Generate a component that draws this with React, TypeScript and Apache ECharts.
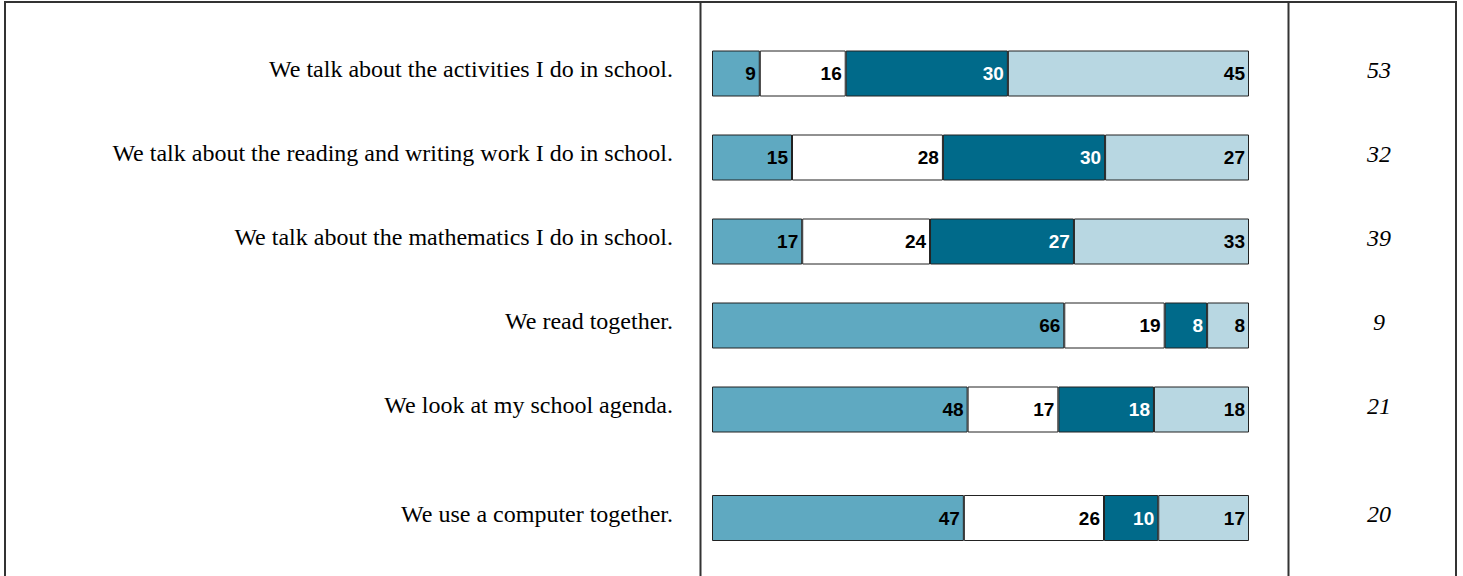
import React, { useEffect, useRef } from "react";
import * as echarts from "echarts";

const categories = [
  "We talk about the activities I do in school.",
  "We talk about the reading and writing work I do in school.",
  "We talk about the mathematics I do in school.",
  "We read together.",
  "We look at my school agenda.",
  "We use a computer together.",
];
const sideValues = ["53", "32", "39", "9", "21", "20"];
const seriesNames = ["Response 1", "Response 2", "Response 3", "Response 4"];
const share1 = [8.9, 14.9, 16.8, 65.6, 47.6, 46.9];
const share2 = [16.0, 28.1, 23.8, 18.7, 16.9, 26.1];
const share3 = [30.2, 30.2, 26.8, 7.9, 17.8, 10.1];
const share4 = [44.9, 26.8, 32.6, 7.8, 17.7, 16.9];
const colors = ["#5FA9C1", "#FFFFFF", "#006A8A", "#B8D7E2"];
const labelColors = ["#000000", "#000000", "#FFFFFF", "#000000"];

export default function App() {
  const ref = useRef<HTMLDivElement>(null);
  useEffect(() => {
    if (!ref.current) return;
    const chart = echarts.init(ref.current, undefined, { renderer: "svg" });
    const shares = [share1, share2, share3, share4];
    const groups = [
      { from: 0, to: 5 },
      { from: 5, to: 6 },
    ];
    const serif = "'Liberation Serif', 'Times New Roman', serif";
    const sans = "'Liberation Sans', Arial, sans-serif";
    const xAxis: any[] = [];
    const yAxis: any[] = [];
    const series: any[] = [];
    groups.forEach((g, gi) => {
      xAxis.push({ type: "value", min: 0, max: 100, show: false, gridIndex: gi });
      const cats = categories.slice(g.from, g.to);
      yAxis.push({
        type: "category",
        gridIndex: gi,
        inverse: true,
        data: cats,
        axisLine: { show: false },
        axisTick: { show: false },
        splitLine: { show: false },
        axisLabel: {
          margin: 39,
          fontFamily: serif,
          fontSize: 24,
          color: "#000",
          verticalAlign: "bottom",
          lineHeight: 9,
        },
      });
      yAxis.push({
        type: "category",
        gridIndex: gi,
        position: "right",
        inverse: true,
        data: sideValues.slice(g.from, g.to),
        axisLine: { show: false },
        axisTick: { show: false },
        splitLine: { show: false },
        axisLabel: {
          margin: 130,
          align: "center",
          fontFamily: serif,
          fontStyle: "italic",
          fontSize: 24,
          color: "#000",
          verticalAlign: "bottom",
          lineHeight: 8,
        },
      });
      shares.forEach((arr, si) => {
        series.push({
          type: "bar",
          name: seriesNames[si],
          stack: "total" + gi,
          xAxisIndex: gi,
          yAxisIndex: gi * 2,
          barWidth: 46,
          data: arr.slice(g.from, g.to),
          itemStyle: { color: colors[si], borderColor: "#222", borderWidth: 1 },
          label: {
            show: true,
            position: "insideRight",
            distance: 4,
            formatter: (p: any) => String(Math.round(p.value)),
            fontFamily: sans,
            fontWeight: "bold",
            fontSize: 19,
            color: labelColors[si],
          },
        });
      });
    });
    chart.setOption({
      animation: false,
      backgroundColor: "#ffffff",
      grid: [
        { left: 712, width: 537, top: 31.5, height: 420 },
        { left: 712, width: 537, top: 476, height: 84 },
      ],
      xAxis,
      yAxis,
      series,
      graphic: [
        {
          type: "rect",
          shape: { x: 5, y: 2, width: 1451, height: 620 },
          style: { fill: "none", stroke: "#333", lineWidth: 2 },
        },
        {
          type: "line",
          shape: { x1: 700.5, y1: 2, x2: 700.5, y2: 576 },
          style: { stroke: "#333", lineWidth: 2 },
        },
        {
          type: "line",
          shape: { x1: 1288.5, y1: 2, x2: 1288.5, y2: 576 },
          style: { stroke: "#333", lineWidth: 2 },
        },
      ],
    });
    return () => chart.dispose();
  }, []);
  return (
    <div
      ref={ref}
      style={{ position: "fixed", left: 0, top: 0, width: 1463, height: 576 }}
    />
  );
}
